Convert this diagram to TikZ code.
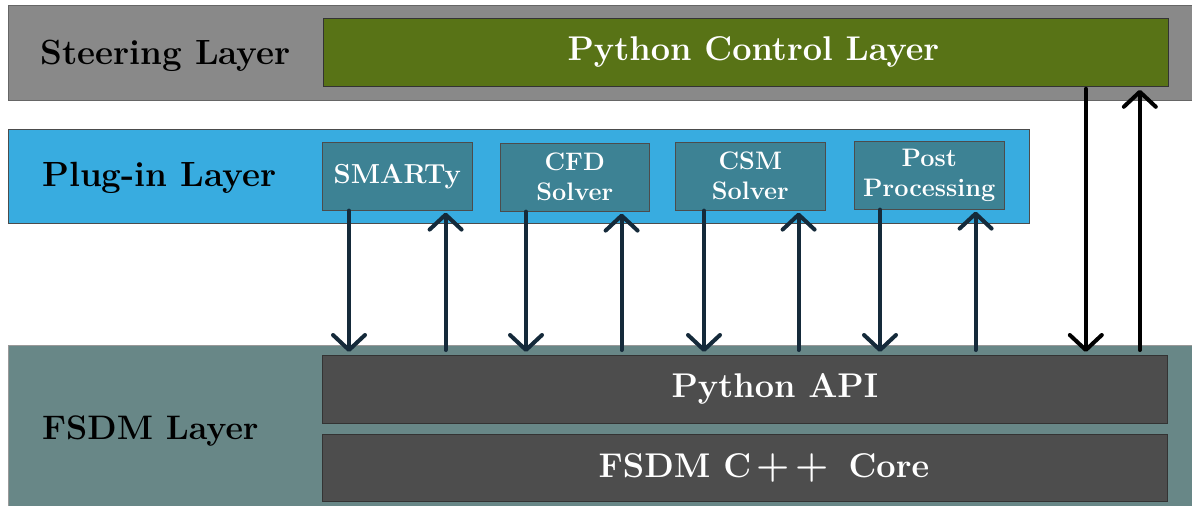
\documentclass[tikz,border=0pt]{standalone}
\usepackage{fontspec}
\usetikzlibrary{arrows.meta,calc}
\definecolor{steergray}{HTML}{898989}
\definecolor{olive}{HTML}{587316}
\definecolor{plugblue}{HTML}{38ACE0}
\definecolor{tealbox}{HTML}{3D8294}
\definecolor{fsdmgray}{HTML}{688787}
\definecolor{darkbox}{HTML}{4D4D4D}
\definecolor{navy}{HTML}{152A3A}
\tikzset{
  layerrect/.style={line width=1pt},
  layerlabel/.style={anchor=base west,inner sep=0pt,text=black,font=\fontsize{35}{40}\selectfont\bfseries},
  bigbox/.style={draw=black!80,line width=0.8pt,inner sep=0pt,text=white,anchor=north west,
    minimum width=845pt,minimum height=68pt,font=\fontsize{34.3}{40}\selectfont\bfseries},
  plugbox/.style={draw=black!70,line width=0.6pt,fill=tealbox,inner sep=0pt,text=white,anchor=north west,
    minimum width=150pt,minimum height=68pt,align=center,font=\fontsize{25.3}{30}\selectfont\bfseries},
  navyarr/.style={draw=navy,line width=4pt,line cap=round,-{Straight Barb[length=15pt,width=32pt,round]}},
  blackarr/.style={draw=black,line width=4pt,line cap=round,-{Straight Barb[length=15pt,width=32pt,round]}},
}
\begin{document}
\begin{tikzpicture}[x=1pt,y=-1pt]
\useasboundingbox (0,0) rectangle (1192,506);
% layers
\filldraw[fill=steergray,draw=black!60,layerrect] (8,5) rectangle (1196,100);
\filldraw[fill=plugblue,draw=black!70,layerrect] (8,129) rectangle (1029,223);
\filldraw[fill=fsdmgray,draw=black!40,layerrect] (8,345) rectangle (1196,510);
\node[layerlabel] (lsteer) at (40,64) {Steering Layer};
\node[layerlabel] (lplug) at (42,186) {Plug-in Layer};
\node[layerlabel,font=\fontsize{34}{40}\selectfont\bfseries] (lfsdm) at (42,439) {FSDM Layer};
% boxes
\node[bigbox,fill=olive] (ctrl) at (323,18) {\hspace*{15pt}Python Control Layer};
\node[bigbox,fill=darkbox] (api) at (322,355) {\hspace*{60pt}Python API};
\node[bigbox,fill=darkbox,minimum height=67pt] (core) at (322,434) {\hspace*{38pt}FSDM C\kern5pt{\fontsize{38}{40}\selectfont+\kern6pt+}\kern7pt\ Core};
\node[plugbox,font=\fontsize{27.5}{30}\selectfont\bfseries] (smarty) at (322,142) {SMARTy};
\node[plugbox,minimum width=149pt] (cfd) at (500,143) {CFD\\Solver};
\node[plugbox] (csm) at (675,142) {CSM\\Solver};
\node[plugbox] (post) at (854,141) {Post\\Processing};
% arrows plug-ins
\foreach \b/\d/\u in {smarty/27/27, cfd/26/28, csm/29/27, post/26/29}{
  \draw[navyarr] ([xshift=\d pt]\b.south west) -- ([xshift=\d pt,yshift=3pt]\b.south west |- api.north);
  \draw[navyarr] ([xshift=-\u pt,yshift=5pt]\b.south east |- api.north) -- ([xshift=-\u pt,yshift=-2pt]\b.south east);
}
% steering arrows
\draw[blackarr] ([xshift=-83pt,yshift=-2pt]ctrl.south east) -- ([xshift=-83pt,yshift=3pt]ctrl.south east |- api.north);
\draw[blackarr] ([xshift=-29pt,yshift=5pt]ctrl.south east |- api.north) -- ([xshift=-29pt,yshift=-3pt]ctrl.south east);
\end{tikzpicture}
\end{document}
